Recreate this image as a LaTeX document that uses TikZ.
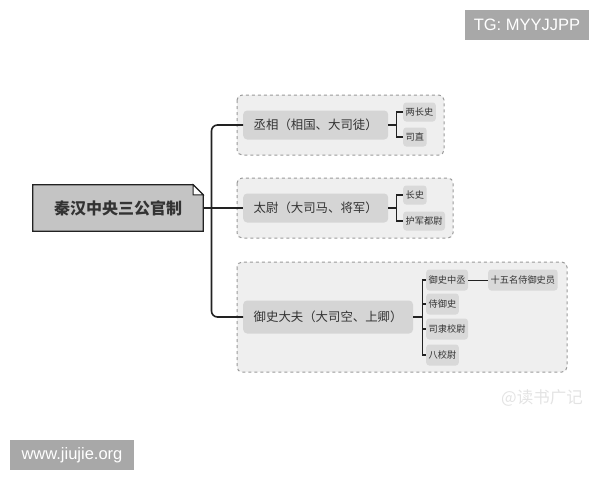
\documentclass[tikz,border=0pt]{standalone}
\usepackage{fontspec}
\setmainfont{Noto Sans CJK SC}
\newfontfamily\latinfont{Liberation Sans}
\definecolor{linegray}{HTML}{222222}
\definecolor{boxgray}{HTML}{EFEFEF}
\definecolor{dashgray}{HTML}{9A9A9A}
\definecolor{maingray}{HTML}{D5D5D5}
\definecolor{leafgray}{HTML}{D9D9D9}
\definecolor{rootgray}{HTML}{C4C4C4}
\definecolor{markgray}{HTML}{A8A8A8}
\definecolor{textgray}{HTML}{333333}
\begin{document}
\begin{tikzpicture}[x=1pt, y=-1pt,
    group box/.style={draw=dashgray, fill=boxgray, dashed, line width=1pt, rounded corners=5pt},
    main node/.style={anchor=west, fill=maingray, rounded corners=4pt, inner xsep=10.5pt, minimum height=29pt, font=\fontsize{12.4}{14}\selectfont, text=textgray},
    leaf node/.style={anchor=west, fill=leafgray, rounded corners=3pt, inner xsep=2.5pt, minimum height=19pt, font=\fontsize{9.2}{11}\selectfont, text=textgray},
    trunk/.style={draw=linegray, line width=1.6pt},
    twig/.style={draw=linegray, line width=1.2pt},
    mark node/.style={fill=markgray, text=white, inner sep=0pt, minimum height=30pt, font=\latinfont\fontsize{16.5}{18}\selectfont}]

    \useasboundingbox (0,0) rectangle (600,480);

    % watermarks
    \node[mark node, minimum width=124pt] (tg) at (527,25) {TG: MYYJJPP};
    \node[mark node, minimum width=124pt] (site) at (72,455) {www.jiujie.org};
    \node[text=gray!22, font=\fontsize{16.5}{18}\selectfont, anchor=west, inner sep=0pt] (wm) at (501,398) {@读书广记};

    % groups
    \draw[group box] (237,95) rectangle (444,155);
    \draw[group box] (237,178) rectangle (453,238);
    \draw[group box] (237,262) rectangle (567,372);

    % root
    \node[minimum width=170pt, minimum height=46pt] (root) at (118,208) {};
    \draw[fill=rootgray, draw=linegray, line width=1.3pt] (root.south west) -- (root.north west) -- ([xshift=-10pt]root.north east) -- ([yshift=-10pt]root.north east) -- (root.south east) -- cycle;
    \draw[fill=white, draw=linegray, line width=1pt] ([xshift=-10pt]root.north east) -- ([xshift=-10pt,yshift=-10pt]root.north east) -- ([yshift=-10pt]root.north east) -- cycle;
    \node[font=\fontsize{16}{18}\bfseries\selectfont, text=textgray] (roottext) at (root) {秦汉中央三公官制};

    % offices
    \node[main node] (b1) at (243,125) {丞相（相国、大司徒）};
    \node[main node] (b2) at (243,208) {太尉（大司马、将军）};
    \node[main node, minimum height=33pt] (b3) at (243,317) {御史大夫（大司空、上卿）};

    \node[leaf node] (c11) at (403,112) {两长史};
    \node[leaf node] (c12) at (403,137) {司直};
    \node[leaf node] (c21) at (403,195) {长史};
    \node[leaf node] (c22) at (403,221) {护军都尉};
    \node[leaf node, minimum height=21pt] (c31) at (426,280) {御史中丞};
    \node[leaf node, minimum height=21pt] (c31a) at (488,280) {十五名侍御史员};
    \node[leaf node, minimum height=21pt] (c32) at (426,304) {侍御史};
    \node[leaf node, minimum height=21pt] (c33) at (426,329) {司隶校尉};
    \node[leaf node, minimum height=21pt] (c34) at (426,355) {八校尉};

    % trunk
    \coordinate (tk) at (211.5,208);
    \draw[trunk, rounded corners=6pt] (b1.west) -| (tk) |- (b3.west);
    \draw[trunk] (root.east) -- (b2.west);

    % brackets
    \draw[twig] (b1.east) -- ++(8,0) |- (c11.west);
    \draw[twig] (b1.east) ++(8,0) |- (c12.west);
    \draw[twig] (b2.east) -- ++(8,0) |- (c21.west);
    \draw[twig] (b2.east) ++(8,0) |- (c22.west);
    \draw[twig] (b3.east) -- ++(9,0) |- (c31.west);
    \draw[twig] (b3.east) ++(9,0) |- (c32.west);
    \draw[twig] (b3.east) ++(9,0) |- (c33.west);
    \draw[twig] (b3.east) ++(9,0) |- (c34.west);
    \draw[draw=linegray, line width=0.8pt] (c31.east) -- (c31a.west);
\end{tikzpicture}
\end{document}
